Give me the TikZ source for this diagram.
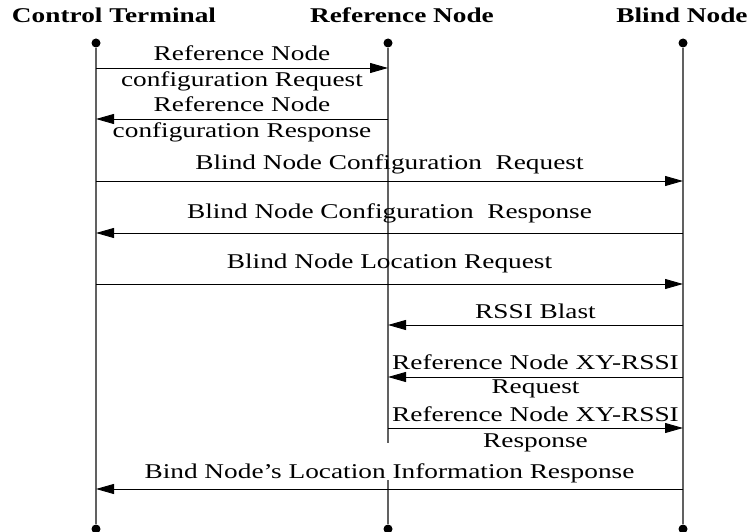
\documentclass[tikz,border=0pt]{standalone}
\usepackage{fontspec}
\setmainfont{Liberation Serif}[FakeStretch=1.3]
\usepackage{tikz}
\usetikzlibrary{arrows.meta, positioning}

\begin{document}
\begin{tikzpicture}[x=1pt, y=-1pt,
    every node/.style={font=\fontsize{21}{27}\selectfont},
    head/.style={font=\fontsize{21}{27}\selectfont\bfseries, anchor=base},
    dot/.style={circle, fill=black, inner sep=0pt, minimum size=9pt},
    lifeline/.style={draw=black!62, line width=1.3pt},
    msg/.style={-{Triangle[length=18pt, width=10pt]}, line width=0.9pt},
    lbl/.style={anchor=base, inner sep=0pt}]
    \useasboundingbox (0,0) rectangle (749,532);

    \node[head] (ct head) at (114,23) {Control Terminal};
    \node[head] (rn head) at (402,23) {Reference Node};
    \node[head] (bn head) at (682,23) {Blind Node};

    \node[dot] (ct top) at (96,43) {};
    \node[dot] (rn top) at (388,43) {};
    \node[dot] (bn top) at (683,43) {};
    \node[dot] (ct bot) at (96,529) {};
    \node[dot] (rn bot) at (388,529) {};
    \node[dot] (bn bot) at (683,529) {};

    \coordinate (rn cut) at (388,443);
    \coordinate (rn on) at (388,480);
    \draw[lifeline] (ct top) -- (ct bot);
    \draw[lifeline] (rn top) -- (rn cut);
    \draw[lifeline] (rn on) -- (rn bot);
    \draw[lifeline] (bn top) -- (bn bot);

    \coordinate (m1) at (0,68);
    \coordinate (m2) at (0,119);
    \coordinate (m3) at (0,181);
    \coordinate (m4) at (0,233);
    \coordinate (m5) at (0,284);
    \coordinate (m6) at (0,325);
    \coordinate (m7) at (0,377);
    \coordinate (m8) at (0,428);
    \coordinate (m9) at (0,489);

    \draw[msg] (ct top |- m1) -- (rn top |- m1)
      node[lbl, midway, yshift=7pt] {Reference Node}
      node[lbl, midway, yshift=-19pt] {configuration Request};
    \draw[msg] (rn top |- m2) -- (ct top |- m2)
      node[lbl, midway, yshift=7pt] {Reference Node}
      node[lbl, midway, yshift=-19pt] {configuration Response};
    \draw[msg] (ct top |- m3) -- (bn top |- m3)
      node[lbl, midway, yshift=12pt] {Blind Node Configuration~ Request};
    \draw[msg] (bn top |- m4) -- (ct top |- m4)
      node[lbl, midway, yshift=15pt] {Blind Node Configuration~ Response};
    \draw[msg] (ct top |- m5) -- (bn top |- m5)
      node[lbl, midway, yshift=16pt] {Blind Node Location Request};
    \draw[msg] (bn top |- m6) -- (rn top |- m6)
      node[lbl, midway, yshift=7pt] {RSSI Blast};
    \draw[msg] (bn top |- m7) -- (rn top |- m7)
      node[lbl, midway, yshift=8pt] {Reference Node XY-RSSI}
      node[lbl, midway, yshift=-16pt] {Request};
    \draw[msg] (rn top |- m8) -- (bn top |- m8)
      node[lbl, midway, yshift=7pt] {Reference Node XY-RSSI}
      node[lbl, midway, yshift=-19pt] {Response};
    \draw[msg] (bn top |- m9) -- (ct top |- m9)
      node[lbl, midway, yshift=11pt] {Bind Node's Location Information Response};
\end{tikzpicture}
\end{document}
